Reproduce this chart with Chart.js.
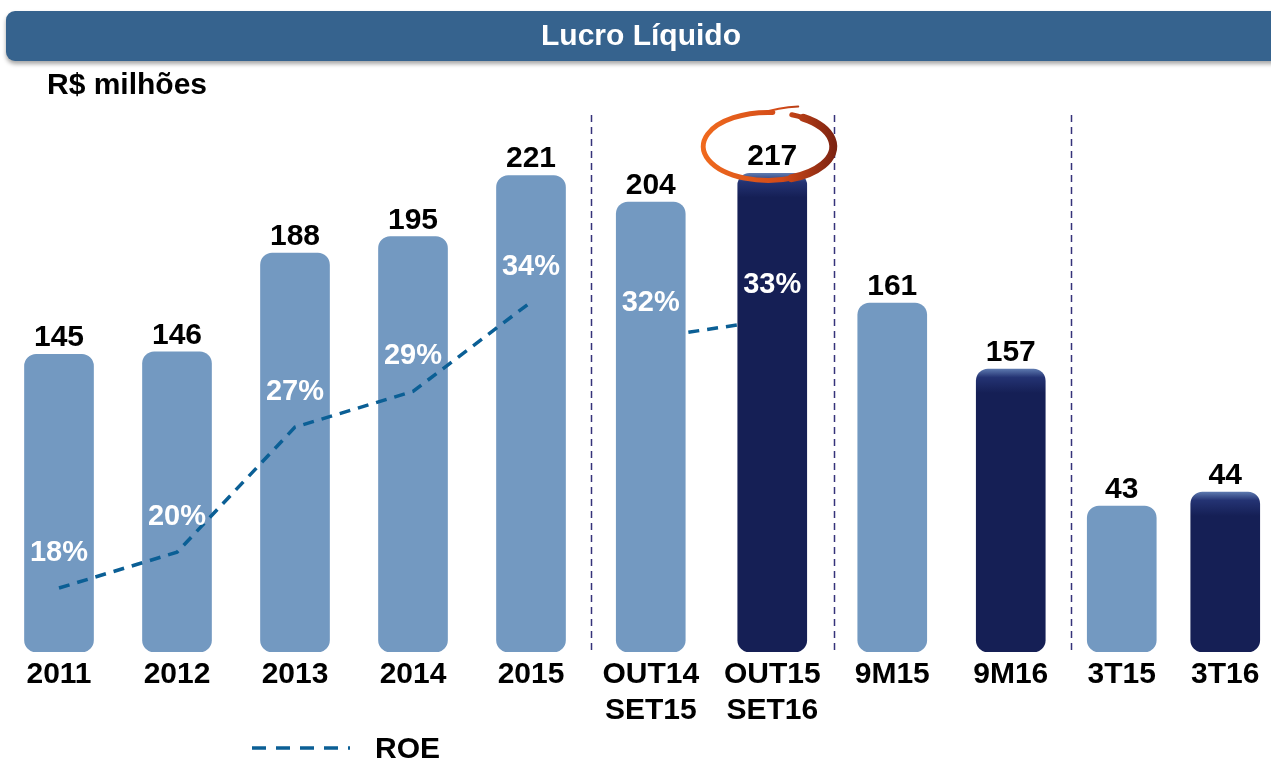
<!DOCTYPE html>
<html>
<head>
<meta charset="utf-8">
<title>Lucro Líquido</title>
<script src="https://cdn.jsdelivr.net/npm/chart.js@4.4.1/dist/chart.umd.min.js"></script>
<style>
    html, body { margin: 0; padding: 0; background: #fff; overflow: hidden; }
    #wrap { position: absolute; left: 0; top: 0; width: 1277px; height: 758px; }
</style>
</head>
<body>
<div id="wrap"><canvas id="lucro"></canvas></div>
<script>
// Lucro Líquido (R$ milhões) e ROE
const categorias = [['2011'], ['2012'], ['2013'], ['2014'], ['2015'], ['OUT14', 'SET15'], ['OUT15', 'SET16'], ['9M15'], ['9M16'], ['3T15'], ['3T16']];
const lucro = [145, 146, 188, 195, 221, 204, 217, 161, 157, 43, 44];
const roe = [18, 20, 27, 29, 34, 32, 33, null, null, null, null];
// cada bloco do slide é um gráfico à parte, com escala própria
const grupos = [0, 0, 0, 0, 0, 1, 1, 2, 2, 3, 3];
// período atual (barra escura)
const atual = [false, false, false, false, false, false, true, false, true, false, true];
const circulado = 6; // OUT15 SET16

const AZUL_CLARO = '#7399C1';
const AZUL_ROE = '#0B5F95';
const FONTE = '"Liberation Sans", Arial, sans-serif';

// largura de cada bloco no eixo x e faixa de cada eixo y
const pesosX = [590, 243, 237, 207];
const faixasY = [[18.4, 253.1], [0, 250.3], [139.85, 173.3], [32.57, 72.0]];

Chart.defaults.font.family = FONTE;

function corBarra(ctx, i) {
    if (!atual[i]) return AZUL_CLARO;
    let chart = ctx.chart;
    if (!chart.chartArea) return '#151F55';
    let topo = chart.scales[ctx.dataset.yAxisID].getPixelForValue(lucro[i]);
    let g = chart.ctx.createLinearGradient(0, topo, 0, topo + 24);
    g.addColorStop(0, '#5C78AE');
    g.addColorStop(0.35, '#243373');
    g.addColorStop(1, '#151F55');
    return g;
}

let blocos = [0, 1, 2, 3];
let indices = blocos.map(g => lucro.map((v, i) => i).filter(i => grupos[i] === g));

let barras = blocos.map(g => ({
    type: 'bar',
    label: 'Lucro Líquido',
    data: indices[g].map(i => lucro[i]),
    xAxisID: 'x' + g,
    yAxisID: 'y' + g,
    base: faixasY[g][0],
    grouped: false,
    barThickness: 69,
    borderRadius: { topLeft: 12, topRight: 12, bottomLeft: 12, bottomRight: 12 },
    borderSkipped: false,
    backgroundColor: ctx => corBarra(ctx, indices[g][ctx.dataIndex]),
    order: 1
}));

// primeiro trecho por cima das barras, segundo por trás
let linhas = [0, 1].map(g => ({
    type: 'line',
    label: 'ROE',
    data: indices[g].map(i => roe[i]),
    xAxisID: 'x' + g,
    yAxisID: 'yRoe',
    borderColor: AZUL_ROE,
    borderWidth: 3.5,
    borderDash: [11, 8],
    pointRadius: 0,
    tension: 0,
    order: g === 0 ? 0 : 2
}));

let escalas = {};
blocos.forEach(g => {
    escalas['x' + g] = {
        type: 'category',
        position: 'bottom',
        labels: indices[g].map(i => categorias[i]),
        stack: 'blocos',
        stackWeight: pesosX[g],
        offset: true,
        grid: { display: false, drawTicks: false },
        border: { display: false },
        ticks: {
            color: '#000',
            font: { size: 30, weight: 'bold', lineHeight: 1.2 },
            padding: 5,
            autoSkip: false,
            maxRotation: 0
        },
        afterFit(scale) {
            scale.height = 106;
            scale.paddingLeft = 0;
            scale.paddingRight = 0;
        }
    };
});
blocos.forEach(g => {
    escalas['y' + g] = { display: false, min: faixasY[g][0], max: faixasY[g][1] };
});
escalas.yRoe = { display: false, min: 14.42, max: 45.3 };

const enfeites = {
    id: 'enfeites',
    afterLayout(chart) {
        blocos.forEach(g => chart.scales['x' + g].configure());
    },
    beforeDraw(chart) {
        let c = chart.ctx;
        let area = chart.chartArea;

        // faixa do título
        c.save();
        c.shadowColor = 'rgba(0, 0, 0, 0.35)';
        c.shadowOffsetY = 3;
        c.shadowBlur = 4;
        c.fillStyle = '#36638E';
        c.beginPath();
        c.roundRect(6, 11, 1320, 50, 9);
        c.fill();
        c.restore();

        c.save();
        c.font = 'bold 30px ' + FONTE;
        c.fillStyle = '#fff';
        c.textAlign = 'center';
        c.textBaseline = 'middle';
        c.fillText('Lucro Líquido', 641, 37);

        c.fillStyle = '#000';
        c.textAlign = 'left';
        c.fillText('R$ milhões', 47, 86);

        // divisórias entre os blocos
        c.strokeStyle = '#35327A';
        c.lineWidth = 1.5;
        c.setLineDash([7, 5]);
        blocos.slice(0, -1).forEach(g => {
            let xm = Math.round(chart.scales['x' + g].right) + 1.5;
            c.beginPath();
            c.moveTo(xm, 115);
            c.lineTo(xm, area.bottom);
            c.stroke();
        });

        // legenda
        c.strokeStyle = AZUL_ROE;
        c.lineWidth = 3.5;
        c.setLineDash([14, 10]);
        c.beginPath();
        c.moveTo(252, 748);
        c.lineTo(350, 748);
        c.stroke();
        c.setLineDash([]);
        c.fillStyle = '#000';
        c.textBaseline = 'alphabetic';
        c.fillText('ROE', 375, 758);
        c.restore();
    },
    afterDatasetsDraw(chart) {
        let c = chart.ctx;
        c.save();
        c.textAlign = 'center';

        chart.data.datasets.forEach((ds, d) => {
            let meta = chart.getDatasetMeta(d);
            meta.data.forEach((el, i) => {
                if (ds.data[i] === null || ds.data[i] === undefined) return;
                if (ds.type === 'bar') {
                    c.font = 'bold 30px ' + FONTE;
                    c.fillStyle = '#000';
                    c.textBaseline = 'alphabetic';
                    c.fillText(ds.data[i], el.x, el.y - 8);
                } else {
                    c.font = 'bold 29px ' + FONTE;
                    c.fillStyle = '#fff';
                    c.textBaseline = 'middle';
                    c.fillText(ds.data[i] + '%', el.x, el.y - 35);
                }
            });
        });

        // círculo em volta do valor destacado
        let g0 = grupos[circulado];
        let el = chart.getDatasetMeta(g0).data[indices[g0].indexOf(circulado)];
        let cx = el.x - 4, cy = el.y - 27;
        let grad = c.createLinearGradient(cx - 66, 0, cx + 66, 0);
        grad.addColorStop(0, '#F06A1E');
        grad.addColorStop(0.6, '#D24A18');
        grad.addColorStop(1, '#7E2412');
        c.strokeStyle = grad;
        c.lineCap = 'round';
        c.lineWidth = 5;
        c.beginPath();
        c.ellipse(cx, cy, 65, 34, 0, -1.2, Math.PI * 2 - 1.5);
        c.stroke();
        c.lineWidth = 8;
        c.beginPath();
        c.ellipse(cx, cy, 65, 34, 0, -1.0, 1.2);
        c.stroke();
        c.lineWidth = 2;
        c.beginPath();
        c.moveTo(cx - 8, cy - 33);
        c.quadraticCurveTo(cx + 10, cy - 39, cx + 30, cy - 40);
        c.stroke();
        c.restore();
    }
};

new Chart(document.getElementById('lucro'), {
    data: {
        datasets: barras.concat(linhas)
    },
    options: {
        responsive: true,
        maintainAspectRatio: false,
        animation: false,
        layout: { padding: { top: 100, left: 0, right: 0, bottom: 0 } },
        plugins: {
            legend: { display: false },
            tooltip: { enabled: false }
        },
        scales: escalas
    },
    plugins: [enfeites]
});
</script>
</body>
</html>
